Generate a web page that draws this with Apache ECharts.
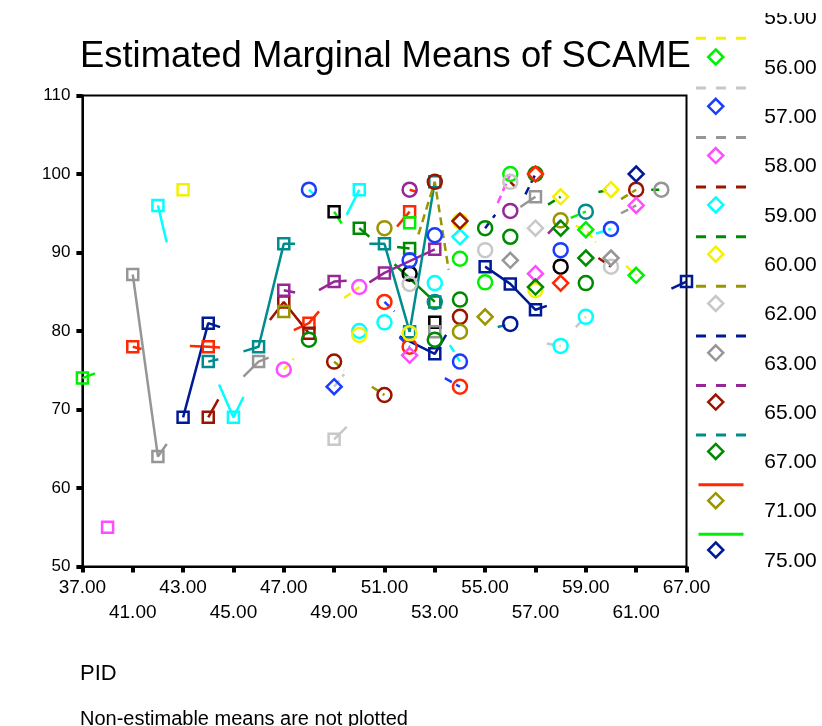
<!DOCTYPE html>
<html><head><meta charset="utf-8">
<script src="https://cdn.jsdelivr.net/npm/echarts@6/dist/echarts.min.js"></script>
<style>html,body{margin:0;padding:0;background:#fff}#c{width:822px;height:726px}</style>
</head><body><div id="c"></div>
<script>
// ---------- DATA ----------
const PID_LABELS = ['37.00','39.00','41.00','42.00','43.00','44.00','45.00','46.00','47.00','48.00','49.00','50.00','51.00','52.00','53.00','54.00','55.00','56.00','57.00','58.00','59.00','60.00','61.00','64.00','67.00'];
const Y_MIN = 50, Y_MAX = 110, Y_STEP = 10;
const LEGEND_NAMES = ['55.00','56.00','57.00','58.00','59.00','60.00','62.00','63.00','65.00','67.00','71.00','75.00'];
// traces: [group, [[pidIndex, mean], ...]]; integer pidIndex = estimated mean (marker), fractional = line continuation
const TRACES = [
  ['25.00', [[10,95.2],[10.3,93.7]]], ['25.00', [[14,81.1]]],
  ['26.00', [[2,78],[2.35,77.7]]], ['26.00', [[4.27,78.1],[5,78],[5.47,77.9]]], ['26.00', [[8.4,80.1],[9,81],[9.4,82.5]]], ['26.00', [[12.5,93.3],[13,95.2]]],
  ['27.00', [[0,74],[0.5,74.6]]], ['27.00', [[13,93.8]]],
  ['29.00', [[1,55]]],
  ['30.00', [[3,96],[3.35,91.3]]], ['30.00', [[5.43,73.2],[6,69],[6.4,71.6]]], ['30.00', [[10.5,94.8],[11,98]]],
  ['31.00', [[4,98]]],
  ['32.00', [[10,66.2],[10.5,67.8]]],
  ['33.00', [[2,87.2],[3,64],[3.35,65.6]]], ['33.00', [[6.4,74.2],[7,76.1],[7.4,76.6]]], ['33.00', [[14,79.9]]], ['33.00', [[17.4,95.8],[18,97.1]]],
  ['34.00', [[5,69],[5.4,71.3]]], ['34.00', [[7.45,81.4],[8,83.7],[9,79.7]]],
  ['35.00', [[11,93.1],[11.4,92]]], ['35.00', [[12.5,90.7],[13,90.5]]], ['35.00', [[12.4,88.5],[14,83.7]]],
  ['36.00', [[8,82.5]]],
  ['37.00', [[4,69],[5,81],[5.47,80.5]]], ['37.00', [[12.6,79.3],[14,77.1],[14.45,79.5]]], ['37.00', [[16,88.2],[17,86],[18,82.7],[18.45,83.2]]], ['37.00', [[23.4,85.4],[24,86.3]]],
  ['38.00', [[8,85.2],[8.45,84.9]]], ['38.00', [[9.4,85.2],[10,86.3],[10.5,86.4]]], ['38.00', [[11.4,86.2],[12,87.4],[14,90.4]]],
  ['39.00', [[5,76.1],[5.4,76.4]]], ['39.00', [[6.4,77.4],[7,78],[8,91.1],[8.45,91.1]]], ['39.00', [[11.4,91.1],[12,91.1],[13,79.9],[14,99]]],
  ['40.00', [[13,87.3]]], ['40.00', [[19,88.2]]],
  ['41.00', [[12,83.7],[12.4,82.5]]], ['41.00', [[12.6,79.2],[13,78]]], ['41.00', [[14.4,74],[15,72.9]]],
  ['42.00', [[15,89.2]]], ['42.00', [[16,86.2]]], ['42.00', [[16.5,96.3],[17,100]]],
  ['43.00', [[9,98],[9.37,96.9]]], ['43.00', [[13,89]]], ['43.00', [[14,92.2]]], ['43.00', [[14.6,78.2],[15,76.1]]], ['43.00', [[19,90.3]]], ['43.00', [[20.4,92.4],[21,93]]],
  ['44.00', [[8,75.1],[8.4,76.5]]], ['44.00', [[10.4,84.2],[11,85.6]]],
  ['45.00', [[11,80]]], ['45.00', [[12,81.1]]], ['45.00', [[14,86.1]]], ['45.00', [[18.45,78.4],[19,78.1]]], ['45.00', [[19.6,80.5],[20,81.8]]],
  ['46.00', [[11,79.5]]], ['46.00', [[13,79.7]]], ['46.00', [[15,94]]], ['46.00', [[18,85.2]]],
  ['47.00', [[13,86]]], ['47.00', [[16,90.3]]], ['47.00', [[17,99],[17.3,98]]], ['47.00', [[20.5,89.3],[21,88.2]]],
  ['48.00', [[22.6,98],[23,98]]],
  ['49.00', [[10,76.1],[10.4,75]]], ['49.00', [[11.5,72.9],[12,71.85]]], ['49.00', [[13.35,92.3],[14,99],[14.55,87.8]]], ['49.00', [[15,81.8]]], ['49.00', [[21.4,96.8],[22,98]]],
  ['50.00', [[9,78.9]]], ['50.00', [[14,78.9]]], ['50.00', [[15,84]]], ['50.00', [[16,93.1],[16.4,94.8]]], ['50.00', [[17,92]]], ['50.00', [[17.6,97.4],[18,100]]], ['50.00', [[20,86.1]]],
  ['51.00', [[12,93.1]]], ['51.00', [[15,79.9]]], ['51.00', [[18.5,92.4],[19,94.1]]],
  ['52.00', [[16.5,80.5],[17,80.9]]],
  ['53.00', [[13,98],[13.3,97.7]]], ['53.00', [[17,95.3]]],
  ['54.00', [[14,83.7]]], ['54.00', [[19.4,94.4],[20,95.2]]],
  ['55.00', [[18,100]]], ['55.00', [[19,86.1]]],
  ['56.00', [[19.6,93.4],[20,92.9],[20.4,91.3]]], ['56.00', [[21.6,88.3],[22,87.1]]],
  ['57.00', [[10,72.9],[10.4,74.5]]],
  ['58.00', [[13,76.9]]], ['58.00', [[18,87.3]]], ['58.00', [[21.4,95],[22,96]]],
  ['59.00', [[15,92]]],
  ['60.00', [[18.5,96.1],[19,97.1]]], ['60.00', [[20.5,97.7],[21,98]]],
  ['62.00', [[18,93.1]]],
  ['63.00', [[17,89]]], ['63.00', [[21,89.3]]],
  ['65.00', [[15,94]]],
  ['67.00', [[18,85.6]]], ['67.00', [[19,93.1]]], ['67.00', [[20,89.3]]],
  ['71.00', [[16,81.8]]],
  ['75.00', [[22,100]]]
];

// ---------- STYLES ----------
const C = {black:'#000000', red:'#ff2800', lime:'#00f000', blue:'#1a3cff', pink:'#ff4cff', cyan:'#00ffff',
  yellow:'#f5f000', lgray:'#c8c8c8', gray:'#969696', dred:'#9a1400', green:'#008a00', olive:'#9a9600',
  navy:'#001a96', purple:'#962896', teal:'#008c8c'};
// group -> [symbol, marker colour, line colour, line type]
const STYLE = {
  '25.00':['rect','black','lime','solid'], '26.00':['rect','red','red','solid'], '27.00':['rect','lime','lime','solid'],
  '29.00':['rect','pink','pink','solid'], '30.00':['rect','cyan','cyan','solid'], '31.00':['rect','yellow','yellow','solid'],
  '32.00':['rect','lgray','lgray','solid'], '33.00':['rect','gray','gray','solid'], '34.00':['rect','dred','dred','solid'],
  '35.00':['rect','green','green','solid'], '36.00':['rect','olive','olive','solid'], '37.00':['rect','navy','navy','solid'],
  '38.00':['rect','purple','purple','solid'], '39.00':['rect','teal','teal','solid'],
  '40.00':['circle','black','lime','dashed'], '41.00':['circle','red','blue','dashed'], '42.00':['circle','lime','pink','dashed'],
  '43.00':['circle','blue','cyan','dashed'], '44.00':['circle','pink','yellow','dashed'], '45.00':['circle','cyan','lgray','dashed'],
  '46.00':['circle','yellow','gray','dashed'], '47.00':['circle','lgray','dred','dashed'], '48.00':['circle','gray','green','dashed'],
  '49.00':['circle','dred','olive','dashed'], '50.00':['circle','green','navy','dashed'], '51.00':['circle','olive','purple','dashed'],
  '52.00':['circle','navy','teal','dashed'], '53.00':['circle','purple','red','dashed'], '54.00':['circle','teal','lime','dashed'],
  '55.00':['diamond','red','cyan','dashed'], '56.00':['diamond','lime','yellow','dashed'], '57.00':['diamond','blue','lgray','dashed'],
  '58.00':['diamond','pink','gray','dashed'], '59.00':['diamond','cyan','dred','dashed'], '60.00':['diamond','yellow','green','dashed'],
  '62.00':['diamond','lgray','olive','dashed'], '63.00':['diamond','gray','navy','dashed'], '65.00':['diamond','dred','purple','dashed'],
  '67.00':['diamond','green','teal','dashed'], '71.00':['diamond','olive','red','solid'], '75.00':['diamond','navy','lime','solid']
};
const SYM_SIZE = {rect: 11, circle: 14, diamond: 15};
const FONT = 'Liberation Sans';
const DASH_ICON = 'path://M0,0H10V3H0Z M20,0H30V3H20Z M40,0H50V3H40Z';
const SOLID_ICON = 'path://M0,0H45V3H0Z';

const series = TRACES.map(([name, pts]) => {
  const [shape, mk, ln, lt] = STYLE[name];
  return {
    type: 'line', name: name,
    data: pts.map(([x, v]) => Number.isInteger(x) ? {value: [x, v]} : {value: [x, v], symbol: 'none'}),
    symbol: shape, symbolSize: SYM_SIZE[shape], showSymbol: true,
    itemStyle: {color: 'rgba(0,0,0,0)', borderColor: C[mk], borderWidth: 2.5},
    lineStyle: {color: C[ln], width: 2.5, type: lt === 'dashed' ? [8, 5] : 'solid'},
    emphasis: {disabled: true}, silent: true, animation: false
  };
});

const chart = echarts.init(document.getElementById('c'), null, {renderer: 'canvas'});
chart.setOption({
  animation: false,
  backgroundColor: '#ffffff',
  title: [
    {text: 'Estimated Marginal Means of SCAME', left: 75, top: 34, textStyle: {fontFamily: FONT, fontSize: 36.4, fontWeight: 'normal', color: '#000'}},
    {text: 'PID', left: 75, top: 658, textStyle: {fontFamily: FONT, fontSize: 22, fontWeight: 'normal', color: '#000'}},
    {text: 'Non-estimable means are not plotted', left: 75, top: 704, textStyle: {fontFamily: FONT, fontSize: 20, fontWeight: 'normal', color: '#000'}}
  ],
  grid: {left: 82.4, right: 135.5, top: 95.5, bottom: 159.5, show: true, borderColor: '#000', borderWidth: 2, backgroundColor: 'transparent'},
  xAxis: {
    type: 'value', min: 0, max: PID_LABELS.length - 1, interval: 2,
    axisLine: {show: true, lineStyle: {color: '#000', width: 2}},
    axisTick: {show: true, length: 6, lineStyle: {color: '#000', width: 4}},
    splitLine: {show: false},
    axisLabel: {
      fontFamily: FONT, fontSize: 19, color: '#000', margin: 9, lineHeight: 25,
      formatter: v => { const k = Math.round(v / 2); const t = PID_LABELS[Math.round(v)]; return k % 2 ? '\n' + t : t; }
    }
  },
  yAxis: {
    type: 'value', min: Y_MIN, max: Y_MAX, interval: Y_STEP,
    axisLine: {show: true, lineStyle: {color: '#000', width: 2}},
    axisTick: {show: true, length: 6, lineStyle: {color: '#000', width: 4}},
    splitLine: {show: false},
    axisLabel: {fontFamily: FONT, fontSize: 17, color: '#000', margin: 12}
  },
  legend: [
    {
      orient: 'vertical', left: 696, top: -12.8, padding: 0, itemWidth: 50, itemHeight: 3, itemGap: 46.6,
      selectedMode: false, formatter: () => '', textStyle: {fontSize: 1, lineHeight: 1},
      data: LEGEND_NAMES.map(n => ({name: n, icon: STYLE[n][3] === 'dashed' ? DASH_ICON : SOLID_ICON,
        itemStyle: {color: C[STYLE[n][2]], borderWidth: 0}}))
    },
    {
      orient: 'vertical', left: 707, top: -14.3, padding: 0, itemWidth: 15, itemHeight: 15, itemGap: 5.3,
      selectedMode: false,
      formatter: n => '\n' + n,
      textStyle: {fontFamily: FONT, fontSize: 21, color: '#000', lineHeight: 22, padding: [0, 0, 0, 36]},
      data: LEGEND_NAMES.map(n => ({name: n, icon: 'diamond',
        itemStyle: {color: 'rgba(0,0,0,0)', borderColor: C[STYLE[n][1]], borderWidth: 2.5}}))
    }
  ],
  graphic: [
    {type: 'rect', left: 690, top: 0, z: 100, shape: {width: 132, height: 13}, style: {fill: '#fff'}},
    {type: 'rect', left: 698, top: 0, z: 100, shape: {width: 40, height: 18}, style: {fill: '#fff'}}
  ],
  series: series
});
</script></body></html>
